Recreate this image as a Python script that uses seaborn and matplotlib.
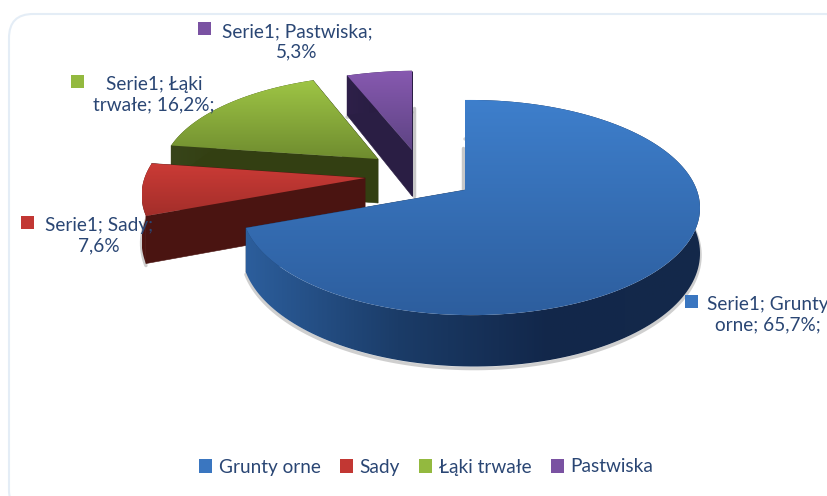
"""
Exploded 3D style pie, land use shares.
"""
import numpy as np
import seaborn as sns
import matplotlib.pyplot as plt
from matplotlib.colors import LinearSegmentedColormap
from matplotlib.patches import FancyBboxPatch, Patch, Polygon, Rectangle

categories = ['Grunty orne', 'Sady', 'Łąki trwałe', 'Pastwiska']
values = [65.7, 7.6, 16.2, 5.3]
label_lines = ['Serie1; Grunty\norne; 65,7%;', 'Serie1; Sady;\n7,6%',
               'Serie1; Łąki\ntrwałe; 16,2%;', 'Serie1; Pastwiska;\n5,3%']

# gradient stops of the faces and the rim, per slice
top_colors = [('#3e7fcc', '#2d5e9e'), ('#cb3b36', '#a32e2a'),
              ('#9ec545', '#6f8c2f'), ('#8759b0', '#5e4484')]
side_colors = [('#2c5e9c', '#1b3c68', '#12274a', '#14294a'),
               ('#521512', '#4a1411', '#4a1411', '#551512'),
               ('#38451a', '#333f12', '#333f12', '#2f3b10'),
               ('#2e2049', '#2a1e44', '#281c3e', '#261a3a')]
key_colors = ['#3a76c0', '#c23733', '#93b93f', '#7a52a2']

# pixel layout of the exploded slices
APEX = [(465, 190), (365, 178), (378, 159), (412, 150)]
RY_SCALE = [1.0, 1.0, 0.93, 0.88]
RX_SCALE = [1.0, 1.0, 0.97, 0.97]
RX, RY = 226, 104.7
K, M = 0.163, -0.025
DEPTH = [43, 46, 44, 46]

sns.set_theme(style='white')
plt.rcParams['font.family'] = ['Lato', 'DejaVu Sans']
TEXT = '#2a4674'
FONT = 13.7


def project(u, v, z, i):
    w = 1 + K * v + M * u
    x = APEX[i][0] + RX * RX_SCALE[i] * u / w
    y = APEX[i][1] - RY * RY_SCALE[i] * v / w + z * DEPTH[i] / w
    return np.column_stack([x, y])


def gradient_fill(points, colors, zorder, horizontal=False):
    outline = Polygon(points, fc='none', ec='none', zorder=zorder)
    ax.add_patch(outline)
    grad = np.linspace(0, 1, 256)
    grad = grad.reshape(1, -1) if horizontal else grad.reshape(-1, 1)
    cmap = LinearSegmentedColormap.from_list('fill', colors)
    im = ax.imshow(grad, cmap=cmap, aspect='auto', zorder=zorder,
                   extent=(points[:, 0].min(), points[:, 0].max(),
                           points[:, 1].max(), points[:, 1].min()))
    im.set_clip_path(outline)


fig, ax = plt.subplots(figsize=(8.28, 4.96), dpi=100)
fig.subplots_adjust(0, 0, 1, 1)

# angles come from the pie itself, the wedges are redrawn with a projection
wedges, _ = ax.pie(values, startangle=90, counterclock=False)
angles = [(w.theta1, w.theta2) for w in wedges]
for w in wedges:
    w.remove()
ax.set_aspect('auto')

ax.add_patch(FancyBboxPatch((9, 14), 840, 500, boxstyle='round,pad=0,rounding_size=24',
                            fc='white', ec='#e4edf6', lw=1.5, zorder=0))

for i in [3, 2, 1, 0]:
    zo = 10 + (3 - i) * 5
    theta = np.radians(np.linspace(angles[i][0], angles[i][1], 160))
    u, v = np.cos(theta), np.sin(theta)
    upper = project(u, v, 0, i)
    lower = project(u, v, 1, i)
    apex_up = project(np.zeros(1), np.zeros(1), 0, i)
    apex_lo = project(np.zeros(1), np.zeros(1), 1, i)

    # soft shadows, under the rim and along the vertical cut
    ax.plot(lower[:, 0], lower[:, 1] + 2, color='#777777', lw=2.5, alpha=0.35, zorder=zo)
    if i in (0, 3):
        shift = -2 if i == 0 else 2
        ax.plot([apex_up[0, 0] + shift] * 2, [apex_up[0, 1] - 42, apex_lo[0, 1]],
                color='#777777', lw=2.5, alpha=0.4, zorder=zo)

    # radial walls
    for end in [0, -1]:
        quad = [apex_up[0], upper[end], lower[end], apex_lo[0]]
        col = side_colors[i][1]
        ax.add_patch(Polygon(quad, fc=col, ec=col, lw=0.4, zorder=zo + 1))

    # rim, shaded from left to right
    rim = np.vstack([upper, lower[::-1]])
    gradient_fill(rim, side_colors[i], zo + 2, horizontal=True)

    # top face with vertical gradient
    gradient_fill(np.vstack([apex_up, upper]), top_colors[i], zo + 3)

ax.set_xlim(0, 828)
ax.set_ylim(496, 0)
ax.set_axis_off()

# data labels with their small colour keys
label_pos = [(768, 315), (99, 236), (154, 95), (297, 42)]
key_pos = [(685, 295), (21, 216), (71, 75), (198, 22)]
for i, txt in enumerate(label_lines):
    ax.text(*label_pos[i], txt, ha='center', va='center', fontsize=FONT, color=TEXT,
            linespacing=1.25, zorder=40)
    ax.add_patch(Rectangle(key_pos[i], 13, 13, fc=key_colors[i], ec='none', zorder=40))

handles = [Patch(fc=c, ec='none') for c in key_colors]
ax.legend(handles, categories, loc='center', bbox_to_anchor=(426 / 828, 1 - 467 / 496),
          ncol=4, frameon=False, fontsize=FONT, labelcolor=TEXT, handlelength=0.7,
          handleheight=0.7, handletextpad=0.35, columnspacing=1.0)

fig.savefig('out.png', dpi=100)
